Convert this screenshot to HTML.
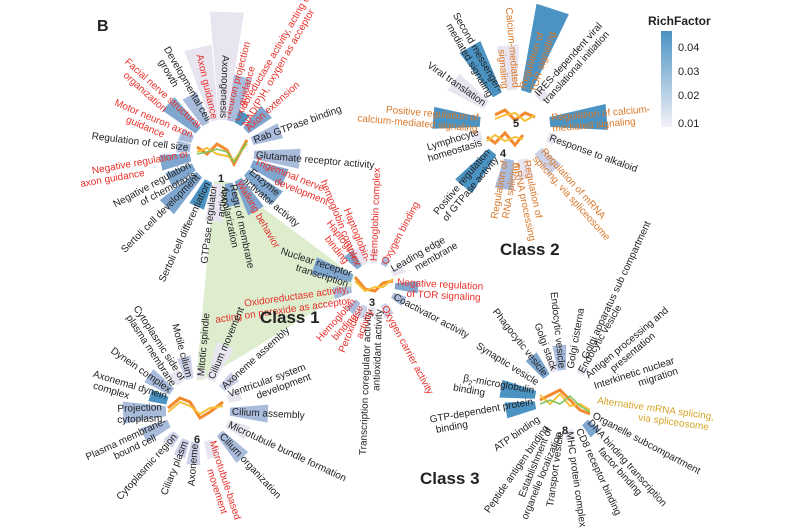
<!DOCTYPE html>
<html><head><meta charset="utf-8"><style>
html,body{margin:0;padding:0;background:#fff}
svg{display:block;font-family:"Liberation Sans",Arial,sans-serif}
text{font-size:10px;fill:#222}
.r{fill:#e8302a}.o{fill:#d9782a}.g{fill:#d4a52a}
.c1{fill:#4b93c3}.c2{fill:#7fa6cf}.c3{fill:#a9bcdc}.c4{fill:#cdd2e8}.c5{fill:#e8e5f1}
</style></head><body>
<svg width="800" height="530" viewBox="0 0 800 530">
<defs><linearGradient id="cb" x1="0" y1="0" x2="0" y2="1"><stop offset="0" stop-color="#4b93c3"/><stop offset="1" stop-color="#f3f1f7"/></linearGradient></defs>
<polygon points="215,172 196,384 362,282" fill="#d9ebc9" opacity="0.9"/>
<text x="97" y="31" style="font-size:16px;font-weight:bold">B</text>

<!-- Cluster 1 -->
<g transform="translate(222,152)">
<g transform="rotate(-42)"><polygon class="c2" points="32,-4 60,-8 60,8 32,4"/><text class="r" x="34" y="3">Axon extension</text></g>
<g transform="rotate(-20)"><polygon class="c3" points="32,-4 62,-8 62,8 32,4"/><text x="34" y="3">Rab GTPase binding</text></g>
<g transform="rotate(5)"><polygon class="c3" points="32,-4 78,-10 78,10 32,4"/><text x="34" y="3">Glutamate receptor activity</text></g>
<g transform="rotate(22)"><polygon class="c2" points="32,-4 68,-9 68,9 32,4"/><text class="r" x="34" y="-1">Trigeminal nerve<tspan x="60" dy="11">development</tspan></text></g>
<g transform="rotate(40)"><polygon class="c2" points="32,-4 72,-9 72,9 32,4"/><text x="34" y="-1">Enzyme<tspan x="34" dy="11">activator activity</tspan></text></g>
<g transform="rotate(60)"><polygon class="c2" points="32,-4 68,-9 68,9 32,4"/><text class="r" x="34" y="3">Walking behavior</text></g>
<g transform="rotate(78)"><polygon class="c2" points="32,-4 55,-7 55,7 32,4"/><text x="34" y="-1">Regu of membrane<tspan x="34" dy="11">depolarization</tspan></text></g>
<g transform="rotate(-60)"><polygon class="c1" points="32,-4 45,-6 45,6 32,4"/><text class="r" x="34" y="-1">Oxidoreductase activity, acting on<tspan x="34" dy="11">NAD(P)H, oxygen as acceptor</tspan></text></g>
<g transform="rotate(-75)"><polygon class="c3" points="32,-4 78,-10 78,10 32,4"/><text class="r" x="34" y="-1">Neuron projection<tspan x="50" dy="11">guidance</tspan></text></g>
<g transform="rotate(-83)"><polygon class="c5" points="-32,-4 -70,-9 -70,9 -32,4"/><text x="-34" y="-1" text-anchor="end">GTPase regulator<tspan x="-34" dy="11">activity</tspan></text></g>
<g transform="rotate(-65)"><polygon class="c1" points="-32,-4 -60,-8 -60,8 -32,4"/><text x="-34" y="3" text-anchor="end">Sertoli cell differentiation</text></g>
<g transform="rotate(-45)"><polygon class="c2" points="-32,-4 -78,-10 -78,10 -32,4"/><text x="-34" y="3" text-anchor="end">Sertoli cell development</text></g>
<g transform="rotate(-28)"><polygon class="c2" points="-32,-4 -60,-8 -60,8 -32,4"/><text x="-34" y="-1" text-anchor="end">Negative regulation<tspan x="-34" dy="11">of chemotaxis</tspan></text></g>
<g transform="rotate(-10)"><polygon class="c2" points="-32,-4 -62,-8 -62,8 -32,4"/><text class="r" x="-34" y="-1" text-anchor="end">Negative regulation of<tspan x="-80" dy="11">axon guidance</tspan></text></g>
<g transform="rotate(7)"><polygon class="c3" points="-32,-4 -45,-6 -45,6 -32,4"/><text x="-34" y="3" text-anchor="end">Regulation of cell size</text></g>
<g transform="rotate(23)"><polygon class="c3" points="-32,-4 -45,-6 -45,6 -32,4"/><text class="r" x="-34" y="-1" text-anchor="end">Motor neuron axon<tspan x="-60" dy="11">guidance</tspan></text></g>
<g transform="rotate(42)"><polygon class="c2" points="-32,-4 -72,-9 -72,9 -32,4"/><text class="r" x="-34" y="-1" text-anchor="end">Facial nerve structural<tspan x="-70" dy="11">organization</tspan></text></g>
<g transform="rotate(60)"><polygon class="c3" points="-32,-4 -65,-8 -65,8 -32,4"/><text x="-34" y="-1" text-anchor="end">Developmental cell<tspan x="-80" dy="11">growth</tspan></text></g>
<g transform="rotate(77)"><polygon class="c5" points="-32,-4 -107,-14 -107,14 -32,4"/><text class="r" x="-34" y="3" text-anchor="end">Axon guidance</text></g>
<g transform="rotate(92)"><polygon class="c5" points="-32,-4 -140,-17 -140,17 -32,4"/><text x="-34" y="3" text-anchor="end">Axonogenesis</text></g>
<circle r="30" fill="#fff"/>
<polyline points="-25,-5 -15,2 -5,-8 5,-2 12,12 25,-12" fill="none" stroke="#f28a2e" stroke-width="3"/>
<polyline points="-25,0 -15,-4 -5,2 5,4 12,8 25,-8" fill="none" stroke="#f6c13a" stroke-width="2"/>
<polyline points="-25,2 -15,0 -5,-3 5,0 12,10 25,-10" fill="none" stroke="#7cc45a" stroke-width="1.5"/>
<text x="-4" y="30" style="font-weight:bold;font-size:11px">1</text>
</g>

<!-- Cluster 5/4 -->
<g transform="translate(515,125)">
<g transform="rotate(-48)"><polygon class="c5" points="35,-5 45,-6 45,6 35,5"/><text x="37" y="-1">IRES-dependent viral<tspan x="37" dy="11">translational initiation</tspan></text></g>
<g transform="rotate(-72)"><polygon class="c1" points="35,-5 122,-17 122,17 35,5"/><text class="o" x="37" y="-1">Regulation of<tspan x="37" dy="11">TOR signaling</tspan></text></g>
<g transform="rotate(-5)"><polygon class="c1" points="35,-5 92,-13 92,13 35,5"/><text class="o" x="37" y="-1">Regulation of calcium-<tspan x="37" dy="11">mediated signaling</tspan></text></g>
<g transform="rotate(20)"><polygon class="c5" points="35,-5 42,-6 42,6 35,5"/><text x="37" y="3">Response to alkaloid</text></g>
<g transform="rotate(48)"><polygon class="c4" points="35,-5 60,-8 60,8 35,5"/><text class="o" x="37" y="-1">Regulation of mRNA<tspan x="37" dy="11">splicing, via spliceosome</tspan></text></g>
<g transform="rotate(78)"><polygon class="c5" points="35,-5 55,-8 55,8 35,5"/><text class="o" x="37" y="-1">Regulation of<tspan x="37" dy="11">mRNA processing</tspan></text></g>
<g transform="rotate(-80)"><polygon class="c3" points="-35,-5 -65,-9 -65,9 -35,5"/><text class="o" x="-37" y="-1" text-anchor="end">Regulation of<tspan x="-37" dy="11">RNA splicing</tspan></text></g>
<g transform="rotate(-50)"><polygon class="c1" points="-35,-5 -80,-11 -80,11 -35,5"/><text x="-37" y="-1" text-anchor="end">Positive regulation<tspan x="-37" dy="11">of GTPase activity</tspan></text></g>
<g transform="rotate(-17)"><polygon class="c5" points="-35,-5 -45,-6 -45,6 -35,5"/><text x="-37" y="-1" text-anchor="end">Lymphocyte<tspan x="-37" dy="11">homeostasis</tspan></text></g>
<g transform="rotate(5)"><polygon class="c1" points="-35,-5 -82,-11 -82,11 -35,5"/><text class="o" x="-37" y="-1" text-anchor="end">Positive regulation of<tspan x="-37" dy="11">calcium-mediated signaling</tspan></text></g>
<g transform="rotate(35)"><polygon class="c5" points="-35,-5 -75,-10 -75,10 -35,5"/><text x="-37" y="3" text-anchor="end">Viral translation</text></g>
<g transform="rotate(60)"><polygon class="c1" points="-35,-5 -90,-12 -90,12 -35,5"/><text x="-37" y="-1" text-anchor="end">Second messenger-<tspan x="-37" dy="11">mediated signaling</tspan></text></g>
<g transform="rotate(85)"><polygon class="c5" points="-35,-5 -80,-11 -80,11 -35,5"/><text class="o" x="-37" y="-1" text-anchor="end">Calcium-mediated<tspan x="-37" dy="11">signaling</tspan></text></g>
<circle r="33" fill="#fff"/>
<polyline points="-20,-10 -10,-15 0,-5 10,-12 20,-8" fill="none" stroke="#f28a2e" stroke-width="3"/>
<polyline points="-20,-6 -10,-10 0,-12 10,-4 20,-10" fill="none" stroke="#f6c13a" stroke-width="2"/>
<polyline points="-28,12 -20,18 -10,8 0,20 8,10" fill="none" stroke="#f28a2e" stroke-width="3"/>
<polyline points="-28,16 -20,10 -10,16 0,12 8,14" fill="none" stroke="#f6c13a" stroke-width="2"/>
<text x="-2" y="2" style="font-weight:bold;font-size:11px">5</text>
<text x="-15" y="32" style="font-weight:bold;font-size:11px">4</text>
</g>

<!-- Cluster 3 -->
<g transform="translate(373,285)">
<g transform="rotate(-30)"><polygon class="c5" points="22,-3 35,-5 35,5 22,3"/><text x="24" y="-1">Leading edge<tspan x="45" dy="11">membrane</tspan></text></g>
<g transform="rotate(3)"><polygon class="c2" points="22,-3 45,-6 45,6 22,3"/><text class="r" x="24" y="-1">Negative regulation<tspan x="34" dy="11">of TOR signaling</tspan></text></g>
<g transform="rotate(28)"><polygon class="c3" points="22,-3 35,-5 35,5 22,3"/><text x="24" y="3">Coactivator activity</text></g>
<g transform="rotate(62)"><polygon class="c4" points="22,-3 35,-5 35,5 22,3"/><text class="r" x="24" y="3">Oxygen carrier activity</text></g>
<g transform="rotate(-62)"><polygon class="c3" points="22,-3 30,-4 30,4 22,3"/><text class="r" x="24" y="3">Oxygen binding</text></g>
<g transform="rotate(-88)"><polygon class="c5" points="22,-3 35,-5 35,5 22,3"/><text class="r" x="24" y="3">Hemoglobin complex</text></g>
<g transform="rotate(-88)"><polygon class="c5" points="-22,-3 -30,-4 -30,4 -22,3"/><text x="-24" y="-1" text-anchor="end">Transcription coregulator activity;<tspan x="-24" dy="11">antioxidant activity</tspan></text></g>
<g transform="rotate(-68)"><polygon class="c4" points="-22,-3 -35,-5 -35,5 -22,3"/><text class="r" x="-24" y="-1" text-anchor="end">Peroxidase<tspan x="-24" dy="11">activity</tspan></text></g>
<g transform="rotate(-48)"><polygon class="c3" points="-22,-3 -35,-5 -35,5 -22,3"/><text class="r" x="-24" y="-1" text-anchor="end">Hemoglobin<tspan x="-34" dy="11">binding</tspan></text></g>
<g transform="rotate(-12)"><polygon class="c3" points="-22,-3 -40,-6 -40,6 -22,3"/></g>
<g transform="rotate(18)"><polygon class="c2" points="-22,-4 -62,-9 -62,9 -22,4"/><text x="-24" y="-1" text-anchor="end">Nuclear receptor<tspan x="-24" dy="11">transcription</tspan></text></g>
<g transform="rotate(52)"><polygon class="c2" points="-22,-3 -40,-6 -40,6 -22,3"/><text class="r" x="-24" y="-1" text-anchor="end">Haptoglobin<tspan x="-34" dy="11">binding</tspan></text></g>
<g transform="rotate(68)"><polygon class="c5" points="-22,-3 -40,-6 -40,6 -22,3"/><text class="r" x="-24" y="-1" text-anchor="end">Haptoglobin-<tspan x="-24" dy="11">hemoglobin complex</tspan></text></g>
<circle r="21" fill="#fff"/>
<polyline points="-18,-8 -8,4 2,6 10,-2 20,-4" fill="none" stroke="#f28a2e" stroke-width="3"/>
<polyline points="-18,-4 -8,6 2,2 10,2 20,-6" fill="none" stroke="#f6c13a" stroke-width="2"/>
<text x="-4" y="21" style="font-weight:bold;font-size:11px">3</text>
</g>
<text class="r" transform="translate(349,292) rotate(-8)" text-anchor="end">Oxidoreductase activity,<tspan x="0" dy="12">acting on peroxide as acceptor</tspan></text>

<!-- Cluster 6 -->
<g transform="translate(198,410)">
<g transform="rotate(-42)"><polygon class="c4" points="32,-4 50,-6 50,6 32,4"/><text x="34" y="3">Axoneme assembly</text></g>
<g transform="rotate(-20)"><polygon class="c5" points="32,-4 45,-6 45,6 32,4"/><text x="34" y="-1">Ventricular system<tspan x="60" dy="11">development</tspan></text></g>
<g transform="rotate(3)"><polygon class="c3" points="32,-4 70,-9 70,9 32,4"/><text x="34" y="3">Cilium assembly</text></g>
<g transform="rotate(25)"><polygon class="c5" points="32,-4 55,-7 55,7 32,4"/><text x="34" y="3">Microtubule bundle formation</text></g>
<g transform="rotate(47)"><polygon class="c3" points="32,-4 65,-8 65,8 32,4"/><text x="34" y="3">Cilium organization</text></g>
<g transform="rotate(72)"><polygon class="c5" points="32,-4 50,-6 50,6 32,4"/><text class="r" x="34" y="-1">Microtubule-based<tspan x="60" dy="11">movement</tspan></text></g>
<g transform="rotate(-85)"><polygon class="c5" points="32,-4 40,-5 40,5 32,4"/><text x="34" y="3">Mitotic spindle</text></g>
<g transform="rotate(-67)"><polygon class="c5" points="32,-4 70,-9 70,9 32,4"/><text x="34" y="3">Cilium movement</text></g>
<g transform="rotate(-85)"><polygon class="c4" points="-32,-4 -55,-7 -55,7 -32,4"/><text x="-34" y="3" text-anchor="end">Axoneme</text></g>
<g transform="rotate(-68)"><polygon class="c4" points="-32,-4 -50,-6 -50,6 -32,4"/><text x="-34" y="3" text-anchor="end">Ciliary plasm</text></g>
<g transform="rotate(-48)"><polygon class="c4" points="-32,-4 -45,-6 -45,6 -32,4"/><text x="-34" y="3" text-anchor="end">Cytoplasmic region</text></g>
<g transform="rotate(-25)"><polygon class="c3" points="-32,-4 -60,-8 -60,8 -32,4"/><text x="-34" y="-1" text-anchor="end">Plasma membrane-<tspan x="-50" dy="11">bound cell</tspan></text></g>
<g transform="rotate(-2)"><polygon class="c3" points="-32,-5 -75,-11 -75,11 -32,5"/><text x="-36" y="-1" text-anchor="end">Projection<tspan x="-36" dy="11">cytoplasm</tspan></text></g>
<g transform="rotate(17)"><polygon class="c1" points="-32,-4 -50,-6 -50,6 -32,4"/><text x="-34" y="-1" text-anchor="end">Axonemal dynein<tspan x="-70" dy="11">complex</tspan></text></g>
<g transform="rotate(35)"><polygon class="c3" points="-32,-4 -60,-8 -60,8 -32,4"/><text x="-34" y="3" text-anchor="end">Dynein complex</text></g>
<g transform="rotate(57)"><polygon class="c5" points="-32,-4 -45,-6 -45,6 -32,4"/><text x="-34" y="-1" text-anchor="end">Cytoplasmic side of<tspan x="-34" dy="11">plasma membrane</tspan></text></g>
<g transform="rotate(75)"><polygon class="c4" points="-32,-4 -55,-7 -55,7 -32,4"/><text x="-34" y="3" text-anchor="end">Motile cilium</text></g>
<circle r="30" fill="#fff"/>
<polyline points="-30,-2 -18,-12 -8,-8 2,8 12,2 25,-8" fill="none" stroke="#f28a2e" stroke-width="3"/>
<polyline points="-30,2 -18,-8 -8,-4 2,4 12,-2 25,-4" fill="none" stroke="#f6c13a" stroke-width="2"/>
<text x="-4" y="33" style="font-weight:bold;font-size:11px">6</text>
</g>

<!-- Cluster 8 -->
<g transform="translate(565,400)">
<g transform="rotate(-60)"><polygon class="c5" points="30,-4 38,-5 38,5 30,4"/><text x="32" y="3">Endocytic vesicle</text></g>
<g transform="rotate(-40)"><text x="32" y="-1">Antigen processing and<tspan x="55" dy="11">presentation</tspan></text></g>
<g transform="rotate(-18)"><text x="32" y="-1">Interkinetic nuclear<tspan x="75" dy="11">migration</tspan></text></g>
<g transform="rotate(8)"><text class="g" x="32" y="-1">Alternative mRNA splicing,<tspan x="75" dy="11">via spliceosome</tspan></text></g>
<g transform="rotate(28)"><text x="32" y="3">Organelle subcompartment</text></g>
<g transform="rotate(48)"><polygon class="c2" points="30,-4 45,-6 45,6 30,4"/><text x="32" y="-1">DNA binding transcription<tspan x="60" dy="11">factor binding</tspan></text></g>
<g transform="rotate(65)"><text x="32" y="3">CD8 receptor binding</text></g>
<g transform="rotate(82)"><polygon class="c5" points="30,-4 40,-5 40,5 30,4"/><text x="32" y="3">MHC protein complex</text></g>
<g transform="rotate(-80)"><text x="32" y="3">Golgi cisterna</text></g>
<g transform="rotate(-65)"><text x="46" y="3">Golgi apparatus sub compartment</text></g>
<g transform="rotate(-82)"><text x="-32" y="3" text-anchor="end">Transport vesicle</text></g>
<g transform="rotate(-68)"><text x="-32" y="-1" text-anchor="end">Establishment of<tspan x="-32" dy="11">organelle localization</tspan></text></g>
<g transform="rotate(-55)"><text x="-32" y="3" text-anchor="end">Peptide antigen binding</text></g>
<g transform="rotate(-35)"><text x="-32" y="3" text-anchor="end">ATP binding</text></g>
<g transform="rotate(-10)"><polygon class="c1" points="-30,-4 -60,-8 -60,8 -30,4"/><text x="-32" y="-1" text-anchor="end">GTP-dependent protein<tspan x="-100" dy="11">binding</tspan></text></g>
<g transform="rotate(10)"><polygon class="c1" points="-30,-4 -65,-9 -65,9 -30,4"/><text x="-32" y="-1" text-anchor="end">β<tspan style="font-size:7px" dy="3">2</tspan><tspan dy="-3">-microglobulin</tspan><tspan x="-80" dy="11">binding</tspan></text></g>
<g transform="rotate(32)"><text x="-32" y="3" text-anchor="end">Synaptic vesicle</text></g>
<g transform="rotate(52)"><polygon class="c2" points="-30,-4 -55,-7 -55,7 -30,4"/><text x="-32" y="3" text-anchor="end">Phagocytic vesicle</text></g>
<g transform="rotate(70)"><polygon class="c5" points="-30,-4 -40,-5 -40,5 -30,4"/><text x="-32" y="3" text-anchor="end">Golgi stack</text></g>
<g transform="rotate(84)"><polygon class="c3" points="-30,-4 -55,-7 -55,7 -30,4"/><text x="-32" y="3" text-anchor="end">Endocytic vesicle</text></g>
<circle r="28" fill="#fff"/>
<polyline points="-25,0 -15,-5 -5,-10 5,0 15,10 25,14" fill="none" stroke="#f28a2e" stroke-width="3"/>
<polyline points="-25,-5 -15,4 -5,-6 5,6 15,4 25,10" fill="none" stroke="#f6c13a" stroke-width="2"/>
<polyline points="-25,4 -15,0 -5,4 5,-4 15,6 25,12" fill="none" stroke="#7cc45a" stroke-width="1.5"/>
<text x="-3" y="34" style="font-weight:bold;font-size:11px">8</text>
</g>

<text x="260" y="323" style="font-size:17px;font-weight:bold">Class 1</text>
<text x="500" y="255" style="font-size:17px;font-weight:bold">Class 2</text>
<text x="420" y="484" style="font-size:17px;font-weight:bold">Class 3</text>

<text x="648" y="25" style="font-size:12px;font-weight:bold">RichFactor</text>
<rect x="661" y="31" width="11" height="96" fill="url(#cb)"/>
<text x="678" y="51" style="font-size:11px">0.04</text>
<text x="678" y="75" style="font-size:11px">0.03</text>
<text x="678" y="99" style="font-size:11px">0.02</text>
<text x="678" y="127" style="font-size:11px">0.01</text>
</svg>
</body></html>
